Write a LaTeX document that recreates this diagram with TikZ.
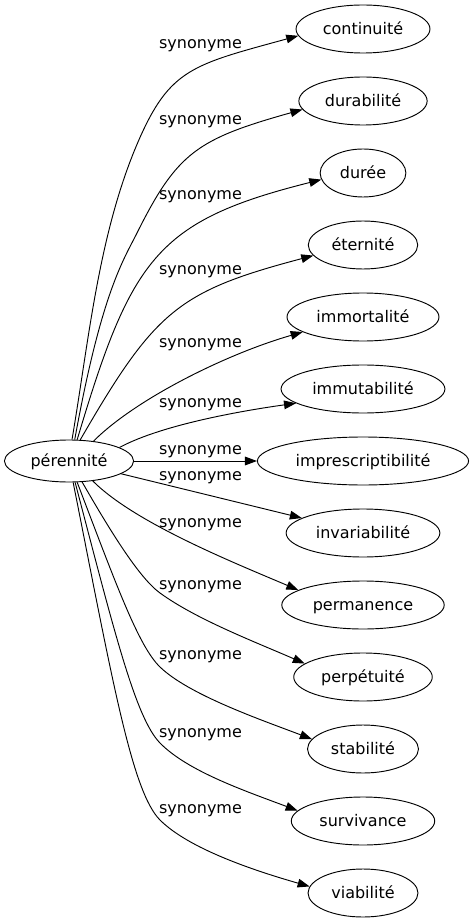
\documentclass[tikz,border=0pt]{standalone}
\usepackage{fontspec}
\setmainfont{DejaVu Sans}
\usetikzlibrary{arrows.meta,shapes.geometric}
\begin{document}
\begin{tikzpicture}[x=0.75pt,y=-0.75pt,
  word/.style={draw, ellipse, line width=0.7pt, inner xsep=5.4pt, inner ysep=0pt,
    minimum height=36pt, text height=10pt, text depth=2pt,
    font=\fontsize{12}{14}\selectfont},
  lbl/.style={inner sep=0pt, font=\fontsize{12}{14}\selectfont},
  edge/.style={line width=0.7pt, -{Triangle[length=9pt,width=6.5pt]}}]
\useasboundingbox (0,0) rectangle (473,923);
\node[word, minimum height=31.5pt] (per) at (69,461) {pérennité};
\node[word] (t0) at (363,29) {continuité};
\node[word] (t1) at (363,101) {durabilité};
\node[word] (t2) at (363,173) {durée};
\node[word] (t3) at (363,245) {éternité};
\node[word] (t4) at (363,317) {immortalité};
\node[word] (t5) at (363,389) {immutabilité};
\node[word] (t6) at (363,461) {imprescriptibilité};
\node[word] (t7) at (363,533) {invariabilité};
\node[word] (t8) at (363,605) {permanence};
\node[word] (t9) at (363,677) {perpétuité};
\node[word] (t10) at (363,749) {stabilité};
\node[word] (t11) at (363,821) {survivance};
\node[word] (t12) at (363,893) {viabilité};

\node[lbl] (l0) at (200.5,46) {synonyme};
\node[lbl] (l1) at (200.5,121.5) {synonyme};
\node[lbl] (l2) at (200.5,196.5) {synonyme};
\node[lbl] (l3) at (200.5,271.5) {synonyme};
\node[lbl] (l4) at (200.5,345) {synonyme};
\node[lbl] (l5) at (200.5,405) {synonyme};
\node[lbl] (l6) at (200.5,452) {synonyme};
\node[lbl] (l7) at (200.5,478) {synonyme};
\node[lbl] (l8) at (200.5,525) {synonyme};
\node[lbl] (l9) at (200.5,587) {synonyme};
\node[lbl] (l10) at (200.5,657) {synonyme};
\node[lbl] (l11) at (200.5,735) {synonyme};
\node[lbl] (l12) at (200.5,811) {synonyme};

\draw[edge] (per.82) .. controls (88.7,341.4) and (98.4,233.8) .. (138,142)
  .. controls (169.7,68.6) and (192.6,64.7) .. (t0.186);
\draw[edge] (per.75) .. controls (101.4,292.3) and (123.6,259.8) .. (137,233)
  .. controls (177.2,152.5) and (197.1,139) .. (t1.188);
\draw[edge] (per.69) .. controls (131.3,258.2) and (156.6,220.9) .. (t2.189);
\draw[edge] (per.62) .. controls (155,310.4) and (178.2,291.3) .. (t3.192);
\draw[edge] (per.39) .. controls (135.5,399.1) and (226.4,353.9) .. (t4.194);
\draw[edge] (per.15) .. controls (163,424) and (247.2,410) .. (t5.192);
\draw[edge] (per) -- (t6);
\draw[edge] (per) -- (t7);
\draw[edge] (per.-40) .. controls (134.7,523) and (234.5,562.9) .. (t8.167);
\draw[edge] (per.-58) .. controls (112,534) and (139.75,578.3) .. (160,593)
  .. controls (196.5,619.5) and (254.9,641.8) .. (t9.167);
\draw[edge] (per.-69) .. controls (116.3,584.7) and (138.4,646.1) .. (160,667)
  .. controls (188.8,694.8) and (261,719.8) .. (t10.169);
\draw[edge] (per.-74) .. controls (114.4,631.9) and (135.5,718) .. (160,743)
  .. controls (188,771.6) and (246.6,791.4) .. (t11.171);
\draw[edge] (per.-79) .. controls (112,678) and (131.7,791.7) .. (160,820)
  .. controls (188.3,848.3) and (252,870) .. (t12.173);
\end{tikzpicture}
\end{document}
